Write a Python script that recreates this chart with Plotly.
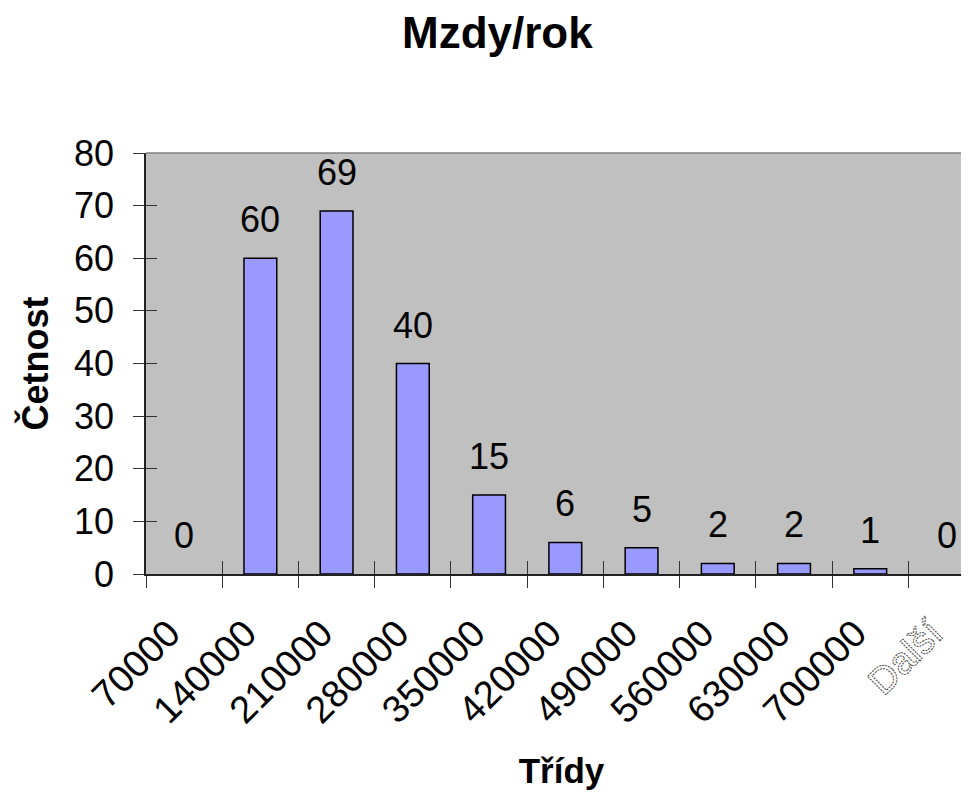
import plotly.graph_objects as go

categories = ["70000", "140000", "210000", "280000", "350000", "420000",
              "490000", "560000", "630000", "700000", "Další"]
counts = [0, 60, 69, 40, 15, 6, 5, 2, 2, 1, 0]

tick_text = categories[:-1] + [
    '<span style="fill:white;stroke:#444444;stroke-width:1px;stroke-dasharray:2,1">Další</span>'
]

FONT = "Liberation Sans, Arial, sans-serif"
num_font = dict(family=FONT, size=36, color="black")
xtick_font = dict(family=FONT, size=38, color="black")

fig = go.Figure()
fig.add_trace(go.Bar(
    x=categories, y=counts,
    marker=dict(color="#9999FF",
                line=dict(color="black", width=[0 if v == 0 else 1.5 for v in counts])),
    hoverinfo="x+y", showlegend=False,
))
# invisible twin trace to carry the inside tick marks (crossing ticks)
fig.add_trace(go.Bar(
    x=categories, y=counts, xaxis="x2", yaxis="y2",
    marker=dict(color="rgba(0,0,0,0)", line=dict(width=0)),
    hoverinfo="skip", showlegend=False,
))

for i, v in enumerate(counts):
    fig.add_annotation(x=i, y=v, text=str(v), showarrow=False,
                       yanchor="bottom", yshift=16, font=num_font)

xr = [-0.5, 10.4]
yr = [0, 80]

fig.update_layout(
    width=969, height=797,
    margin=dict(l=138, r=0, t=145, b=231),
    paper_bgcolor="white", plot_bgcolor="#C0C0C0",
    bargap=0.57,
    title=dict(text="<b>Mzdy/rok</b>", x=0.505, xref="container", xanchor="center",
               y=1 - 25 / 797, yref="container", yanchor="middle",
               font=dict(family=FONT, size=44, color="black")),
    xaxis=dict(
        type="category", range=xr, tickvals=categories, ticktext=tick_text,
        tickangle=-45, tickfont=xtick_font, ticks="outside", tickson="boundaries",
        ticklen=12, tickcolor="#333333", tickwidth=1, automargin=False,
        showline=True, linecolor="#222222", linewidth=1.5, showgrid=False,
        ticklabelstandoff=20, ticklabelshift=-15,
        title=dict(text="<b>Třídy</b>", font=dict(family=FONT, size=35, color="black"),
                   standoff=28),
    ),
    yaxis=dict(
        range=yr, dtick=10, tickfont=num_font, ticks="outside", ticklen=11,
        tickcolor="#333333", tickwidth=1, showline=True, linecolor="#222222",
        linewidth=1.5, showgrid=False, zeroline=False, ticklabelstandoff=12,
        automargin=False,
        title=dict(text="<b>Četnost</b>", font=dict(family=FONT, size=36, color="black"),
                   standoff=14),
    ),
    xaxis2=dict(
        type="category", range=xr, overlaying="x", ticks="inside", tickson="boundaries",
        ticklen=13, tickcolor="#333333", tickwidth=1, showticklabels=False,
        showline=False, showgrid=False, anchor="y2", tickvals=categories,
        automargin=False,
    ),
    yaxis2=dict(
        range=yr, dtick=10, overlaying="y", ticks="inside", ticklen=11,
        tickcolor="#333333", tickwidth=1, showticklabels=False, showline=False,
        showgrid=False, zeroline=False, anchor="x2", automargin=False,
    ),
)
# thin gray top border of the plot area
fig.add_shape(type="line", xref="paper", yref="paper", x0=0, x1=1, y0=1, y1=1,
              line=dict(color="#808080", width=1.5))

fig.write_html("out.html")
